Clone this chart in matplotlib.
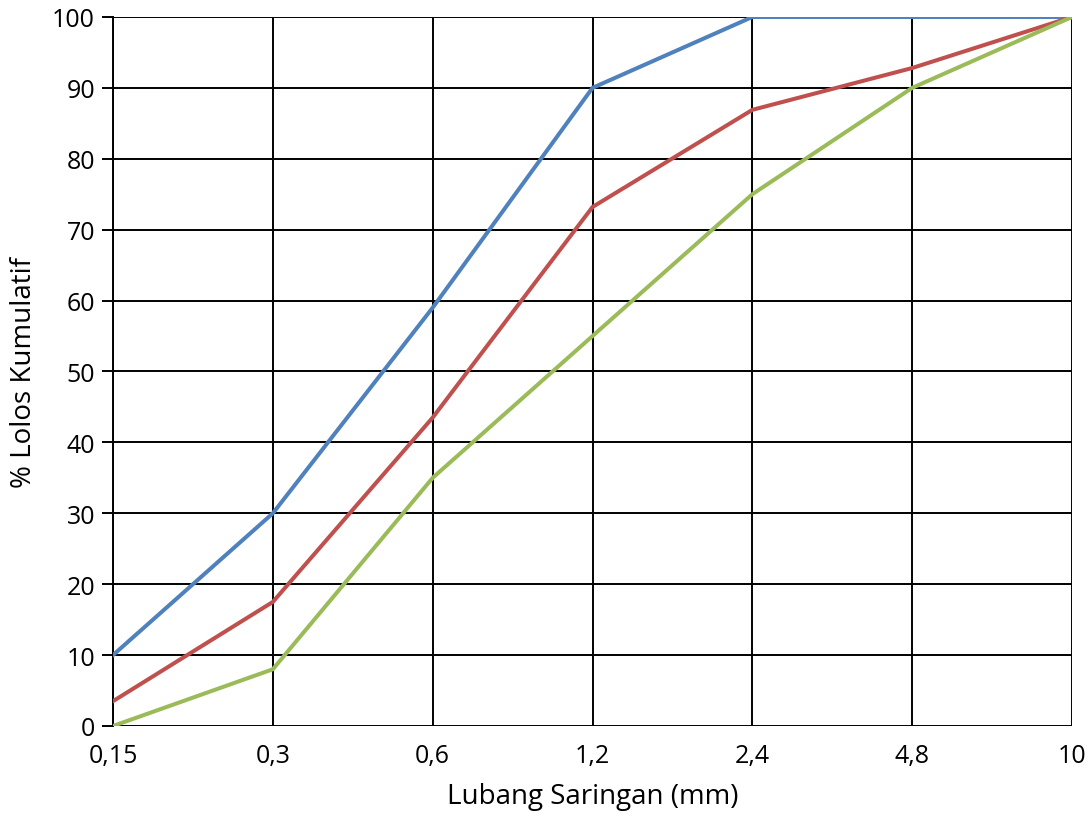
import matplotlib
matplotlib.use('Agg')
import matplotlib.pyplot as plt

# sieve sizes (categorical axis) and cumulative passing %
sieve_labels = ['0,15', '0,3', '0,6', '1,2', '2,4', '4,8', '10']
upper = [10, 30, 59, 90, 100, 100, 100]
actual = [3.5, 17.5, 43.5, 73.2, 86.9, 92.8, 100]
lower = [0, 8, 35, 55, 75, 90, 100]

plt.rcParams['font.family'] = ['Open Sans', 'DejaVu Sans']

fig = plt.figure(figsize=(10.92, 8.28), dpi=100)
ax = fig.add_axes([0.1035, 0.122, 0.8782, 0.8563])

x = list(range(len(sieve_labels)))
ax.plot(x, upper, color='#4F81BD', lw=2.9, zorder=3)
ax.plot(x, actual, color='#C0504D', lw=2.9, zorder=3)
ax.plot(x, lower, color='#9BBB59', lw=2.9, zorder=3)

ax.set_xlim(0, len(x) - 1)
ax.set_ylim(0, 100)
ax.set_yticks(range(0, 101, 10))
ax.set_xticks(x)
ax.set_xticklabels(sieve_labels)

ax.grid(True, color='black', lw=1.4, zorder=1)
for s in ['top', 'right', 'bottom']:
    ax.spines[s].set_visible(False)
ax.spines['left'].set_linewidth(1.4)
ax.tick_params(axis='y', length=8, width=1.4, labelsize=18, pad=5)
ax.tick_params(axis='x', length=0, labelsize=18, pad=12)

ax.set_xlabel('Lubang Saringan (mm)', fontsize=20, labelpad=10)
ax.set_ylabel('% Lolos Kumulatif', fontsize=20, labelpad=10)

fig.savefig('out.png', dpi=100)
